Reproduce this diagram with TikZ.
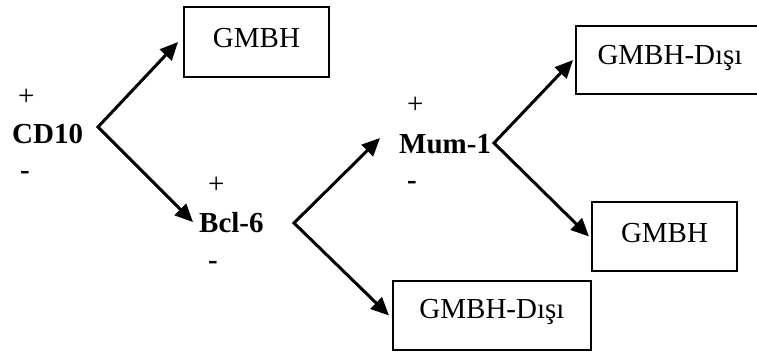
\documentclass[tikz,border=0pt]{standalone}
\usepackage{fontspec}
\setmainfont{Liberation Serif}
\usetikzlibrary{arrows.meta}
\begin{document}
\begin{tikzpicture}[x=1pt,y=-1pt,
  lbl/.style={inner sep=0pt, font=\fontsize{29}{34}\selectfont\bfseries, anchor=base west},
  sign/.style={inner sep=0pt, font=\fontsize{29}{34}\selectfont, anchor=base west},
  minus/.style={inner sep=0pt, font=\fontsize{29}{34}\selectfont\bfseries, anchor=base west},
  box/.style={draw, line width=2pt, inner sep=0pt, font=\fontsize{29}{34}\selectfont, text height=20pt},
  fork/.style={line width=3pt, line join=miter,
    {Triangle[length=18pt,width=16pt]}-{Triangle[length=18pt,width=16pt]}}]
\useasboundingbox (0,0) rectangle (757,353);
\clip (0,0) rectangle (757,353);

% markers with their +/- signs
\node[lbl]   (cd10) at (12,143)  {CD10};
\node[sign]  (cdp)  at (18,105)  {+};
\node[minus] (cdm)  at (20,179)  {-};
\node[lbl]   (bcl)  at (199,232) {Bcl-6};
\node[sign]  (bclp) at (208,193) {+};
\node[minus] (bclm) at (208,269) {-};
\node[lbl]   (mum)  at (399,153) {Mum-1};
\node[sign]  (mump) at (407,113) {+};
\node[minus] (mumm) at (407,189) {-};

% outcome boxes
\node[box, minimum width=145pt, minimum height=70pt, text depth=8pt]  (g1) at (256.5,42)    {GMBH};
\node[box, minimum width=188pt, minimum height=68pt, text depth=10pt] (g2) at (670,60)      {GMBH-Dışı};
\node[box, minimum width=145pt, minimum height=69pt, text depth=9pt]  (g3) at (664.5,236.5) {GMBH};
\node[box, minimum width=198pt, minimum height=69pt, text depth=15pt] (g4) at (492,315.5)   {GMBH-Dışı};

% branching points
\coordinate (v1) at (98,127);
\coordinate (v2) at (294,223);
\coordinate (v3) at (494,143);
\coordinate (t3) at (380,138);

% decision forks
\draw[fork] ([xshift=-5pt]g1.west) -- (v1) -- ([xshift=-6pt]bcl.west);
\draw[fork] (t3) -- (v2) -- ([xshift=-3pt]g4.west);
\draw[fork] ([xshift=-2pt]g2.west) -- (v3) -- ([xshift=-2pt]g3.west);
\end{tikzpicture}
\end{document}
